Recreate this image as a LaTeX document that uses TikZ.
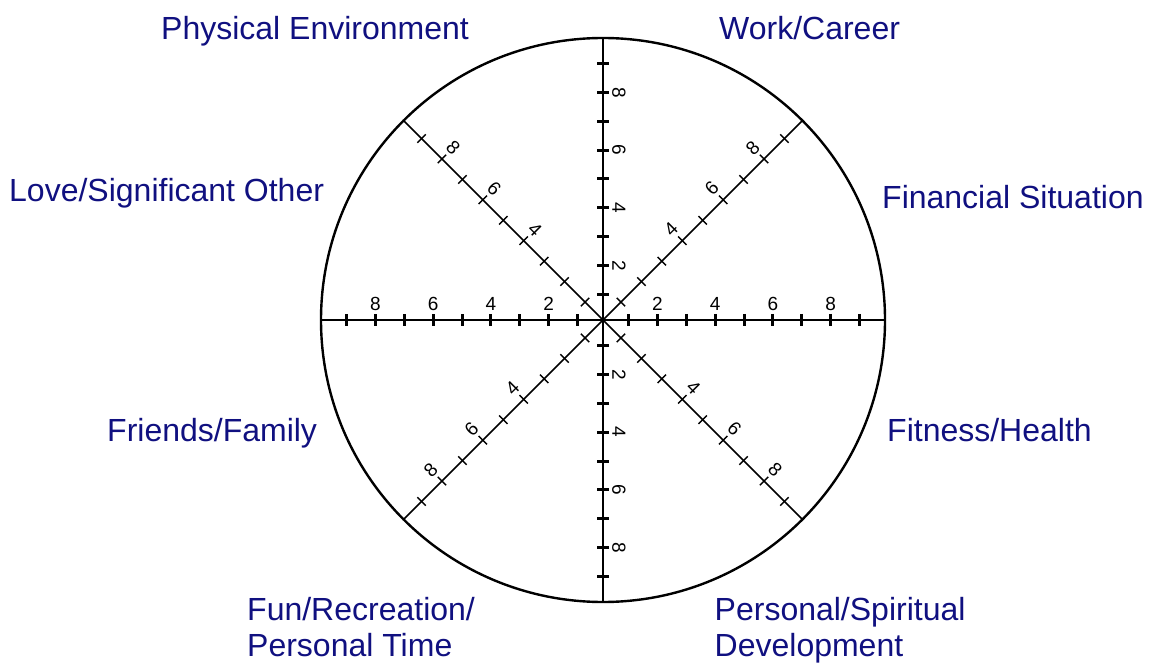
\documentclass[tikz,border=0pt]{standalone}
\usepackage{fontspec}
\setmainfont{Liberation Sans}
\definecolor{labelblue}{RGB}{16,16,128}
\begin{document}
\begin{tikzpicture}[x=1pt,y=1pt,
  rim/.style={line width=2.4pt},
  axisline/.style={line width=2.8pt},
  diagline/.style={line width=1.6pt},
  axistick/.style={line width=3pt},
  diagtick/.style={line width=1.4pt},
  scalenum/.style={font=\fontsize{19}{19}\selectfont, inner sep=0pt},
  area/.style={text=labelblue, font=\fontsize{32}{36}\selectfont,
               inner sep=0pt, align=left, anchor=base west}]
\useasboundingbox (0,0) rectangle (1150,662);
\coordinate (c) at (603,342);
% outer rim of the wheel
\node[circle, draw, rim, minimum size=564pt, inner sep=0pt, outer sep=0pt] (wheel) at (c) {};
% spokes
\draw[axisline] (wheel.west) -- (wheel.east);
\draw[axisline] (wheel.north) -- (wheel.south);
\draw[diagline] (wheel.45) -- (wheel.225);
\draw[diagline] (wheel.135) -- (wheel.315);
% tick marks along every half-spoke
\foreach \t/\sty in {0/axistick,90/axistick,180/axistick,270/axistick,
                     45/diagtick,135/diagtick,225/diagtick,315/diagtick}
  \foreach \k in {1,...,9}
    \draw[\sty] (c) ++(\t:{28.9*\k-3.5}) ++({\t+90}:6) -- ++({\t-90}:12);
% scale numbers on the straight spokes: direction / side / rotation
\foreach \t/\s/\r in {0/90/0, 180/90/0, 90/0/-90, 270/0/-90}
  \foreach \k in {2,4,6,8}
    \path (c) ++(\t:{28.9*\k-3.5}) ++(\s:16) node[scalenum, rotate=\r] (n\t-\k) {\k};
% scale numbers on the diagonal spokes
\foreach \t/\s/\r in {45/135/45, 225/135/45, 135/45/-45, 315/45/-45}
  \foreach \k in {4,6,8}
    \path (c) ++(\t:{28.9*\k-3.5}) ++(\s:16) node[scalenum, rotate=\r] (n\t-\k) {\k};
% life areas
\node[area] (phys) at (161,622.5) {Physical Environment};
\node[area] (work) at (719,622.5) {Work/Career};
\node[area] (love) at (9,460.5) {Love/Significant Other};
\node[area] (money) at (882,453.5) {Financial Situation};
\node[area] (family) at (107,220.5) {Friends/Family};
\node[area] (health) at (887,220.5) {Fitness/Health};
\node[area] (fun) at (247,6) {Fun/Recreation/\\Personal Time};
\node[area] (spirit) at (714.5,6) {Personal/Spiritual\\Development};
\end{tikzpicture}
\end{document}
